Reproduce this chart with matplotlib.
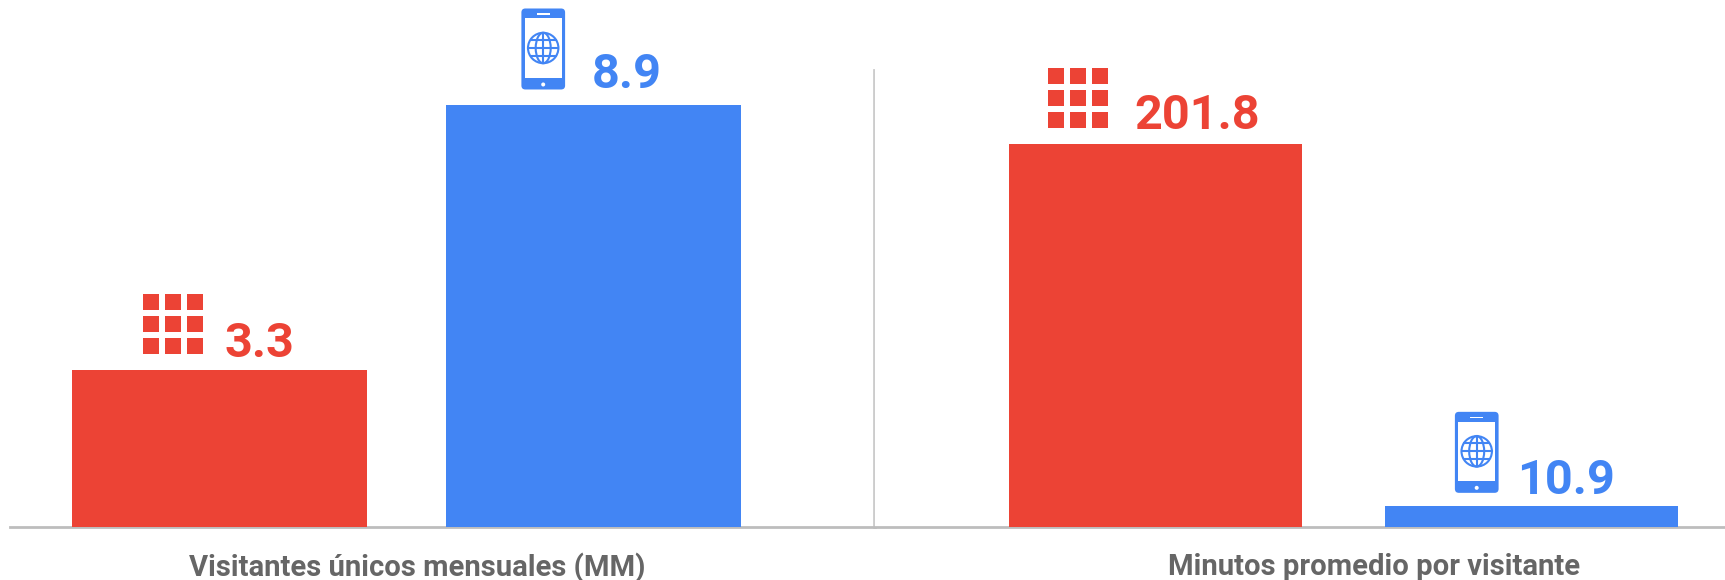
import matplotlib
matplotlib.use('Agg')
import matplotlib.pyplot as plt
from matplotlib.patches import Rectangle, FancyBboxPatch, Circle, Ellipse

plt.rcParams['font.family'] = ['Roboto', 'DejaVu Sans']

RED = '#EC4335'
BLUE = '#4285F4'
GREY = '#BDBDBD'
TEXT_GREY = '#666666'

# data
left_values = [3.3, 8.9]
right_values = [201.8, 10.9]
left_label = 'Visitantes únicos mensuales (MM)'
right_label = 'Minutos promedio por visitante'
bar_colors = [RED, BLUE]

W, H = 1725, 580
BASE_Y = 526.5

fig = plt.figure(figsize=(W / 100, H / 100), dpi=100)


def make_axes(x0, x1):
    return fig.add_axes([x0 / W, (H - BASE_Y) / H, (x1 - x0) / W, BASE_Y / H])


ax1 = make_axes(10, 875)
ax2 = make_axes(875, 1725)
ov = fig.add_axes([0, 0, 1, 1], zorder=5)
ov.set_xlim(0, W)
ov.set_ylim(H, 0)
ov.axis('off')
ov.patch.set_alpha(0)

ax1.set_xlim(-0.56, 1.753)
ax1.set_ylim(0, 11.13)
ax2.set_xlim(-0.746, 1.515)
ax2.set_ylim(0, 277.8)

for ax, vals, bw in [(ax1, left_values, 0.79), (ax2, right_values, 0.78)]:
    ax.bar(range(len(vals)), vals, width=bw, color=bar_colors, zorder=3)
    for s in ['top', 'left', 'right']:
        ax.spines[s].set_visible(False)
    ax.spines['bottom'].set_color(GREY)
    ax.spines['bottom'].set_linewidth(2)
    ax.set_yticks([])
    ax.tick_params(axis='x', length=0, pad=19, labelsize=21.1, labelcolor=TEXT_GREY)

ax1.set_xticks([0.53], [left_label], fontweight='bold')
ax2.set_xticks([0.581], [right_label], fontweight='bold')

# divider between the two panels
ax1.axvline(ax1.get_xlim()[1] - 0.002, ymin=0, ymax=(BASE_Y - 70) / BASE_Y, color='#CCCCCC', lw=2, clip_on=False)


def draw_grid(x, y):
    # x,y = top left corner in pixels
    for r in range(3):
        for c in range(3):
            ov.add_patch(Rectangle((x + c * 22, y + r * 22), 16, 16, color=RED, lw=0))


def draw_phone(x, y):
    # x,y = top left corner in pixels
    ov.add_patch(FancyBboxPatch((x + 2, y + 2), 39.7, 77, boxstyle='round,pad=2,rounding_size=4', color=BLUE, lw=0))
    ov.add_patch(Rectangle((x + 3.4, y + 9.7), 37, 59.6, color='white', lw=0))
    ov.add_patch(Rectangle((x + 15.5, y + 5), 12.7, 1.6, color='white', lw=0))
    ov.add_patch(Circle((x + 21.8, y + 76), 2, color='white', lw=0))
    cx, cy = x + 21.8, y + 39.5
    ring = dict(fill=False, ec=BLUE, lw=1.5)
    ov.add_patch(Circle((cx, cy), 15.2, **ring))
    ov.add_patch(Ellipse((cx, cy), 15, 30.4, **ring))
    ov.plot([cx, cx], [cy - 15, cy + 15], color=BLUE, lw=1.5)
    ov.plot([cx - 15, cx + 15], [cy, cy], color=BLUE, lw=1.5)
    ov.plot([cx - 12.5, cx + 12.5], [cy - 8, cy - 8], color=BLUE, lw=1.5)
    ov.plot([cx - 12.5, cx + 12.5], [cy + 8, cy + 8], color=BLUE, lw=1.5)


def to_px(ax, x, val):
    px, py = ax.transData.transform((x, val))
    return px, H - py


# labels + icons, offsets in pixels from the bar top centre
label_spec = [
    (ax1, 0, left_values[0], RED, 5, 13, 'grid', -76.5, -76.5),
    (ax1, 1, left_values[1], BLUE, -2, 17, 'phone', -72, -97),
    (ax2, 0, right_values[0], RED, -21, 15, 'grid', -107.5, -76),
    (ax2, 1, right_values[1], BLUE, -14, 12, 'phone', -76.5, -94),
]
for ax, i, val, col, dx, dy, icon, ix, iy in label_spec:
    ax.annotate(f'{val}', xy=(i, val), xytext=(dx, dy), textcoords='offset pixels',
                ha='left', va='baseline', fontsize=35, fontweight='bold', color=col, zorder=6)
    bx, by = to_px(ax, i, val)
    if icon == 'grid':
        draw_grid(bx + ix, by + iy)
    else:
        draw_phone(bx + ix, by + iy)

fig.savefig('out.png', dpi=100)
